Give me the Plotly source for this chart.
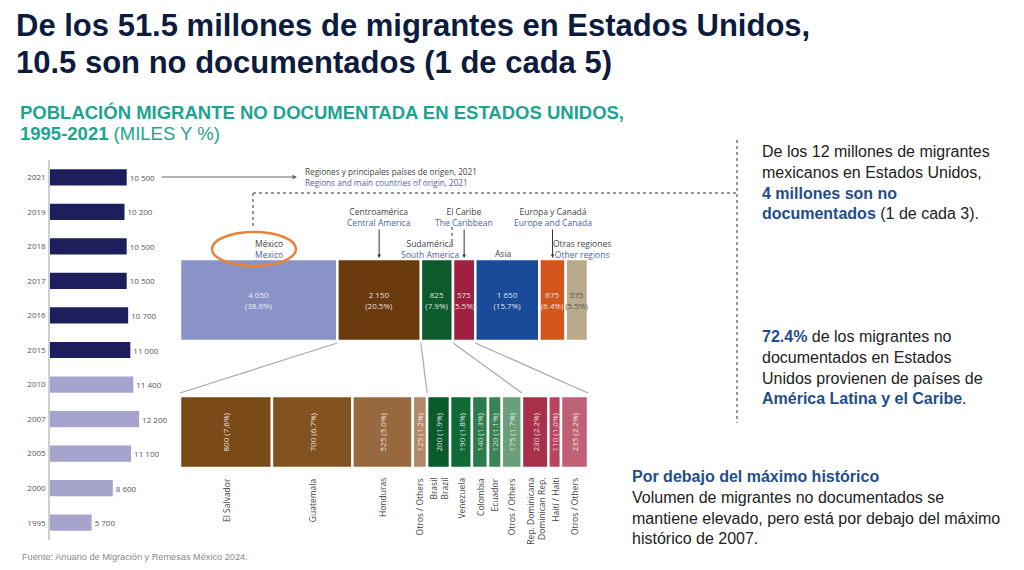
import plotly.graph_objects as go
import numpy as np

# ---------------- data ----------------
years = ["2021", "2019", "2018", "2017", "2016", "2015", "2010", "2007", "2005", "2000", "1995"]
totals = [10500, 10200, 10500, 10500, 10700, 11000, 11400, 12200, 11100, 8600, 5700]

regions_es = ["México", "Centroamérica", "Sudamérica", "El Caribe", "Asia", "Europa y Canadá", "Otras regiones"]
regions_en = ["Mexico", "Central America", "South America", "The Caribbean", "Asia", "Europe and Canada", "Other regions"]
region_values = [4050, 2150, 825, 575, 1650, 675, 575]
region_pct = [38.6, 20.5, 7.9, 5.5, 15.7, 6.4, 5.5]

countries = ["El Salvador", "Guatemala", "Honduras", "Otros / Others",
             "Brasil<br>Brazil", "Venezuela", "Colombia", "Ecuador", "Otros / Others",
             "Rep. Dominicana<br>Dominican Rep.", "Haití / Haiti", "Otros / Others"]
country_values = [800, 700, 525, 125, 200, 190, 140, 120, 175, 230, 110, 235]
country_pct = [7.6, 6.7, 5.0, 1.2, 1.9, 1.8, 1.3, 1.1, 1.7, 2.2, 1.0, 2.2]
country_groups = [4, 5, 3]  # Centroamérica, Sudamérica, El Caribe

# ---------------- styles ----------------
W, H = 1024, 570
FONT = "Open Sans"
TXT = "Liberation Sans, Arial"
BLUE_EN = "#4f5fa6"
year_colors = ["#1c1f5b" if int(y) >= 2015 else "#a4a4cd" for y in years]
region_colors = ["#8a93c7", "#6b3a0c", "#0d5a2c", "#a0213f", "#1a4a9a", "#d2561c", "#b9aa8c"]
region_txt = ["rgba(255,255,255,0.88)"] * 6 + ["#555555"]
country_colors = ["#7a4a17", "#83531f", "#98683f", "#b0886a",
                  "#0b5a2c", "#0f6a36", "#2d7a4b", "#3b8256", "#6b9e7a",
                  "#a8304a", "#b54560", "#bf6075"]


def px(x):
    return x / W


def py(y):
    return 1 - y / H


MID_X0, MID_X1 = 180, 588
mid_total = sum(region_values)
bot_total = sum(country_values)
region_base = np.concatenate([[0], np.cumsum(region_values)[:-1]])
country_base = np.concatenate([[0], np.cumsum(country_values)[:-1]])


def x2p(v):
    return px(MID_X0 + v / mid_total * (MID_X1 - MID_X0))


def x3p(v):
    return px(MID_X0 + v / bot_total * (MID_X1 - MID_X0))


fig = go.Figure()

# left: total by year
fig.add_trace(go.Bar(
    x=totals, y=years, orientation="h", width=0.47,
    marker=dict(color=year_colors, line=dict(width=0)),
    texttemplate="%{x:,}", textposition="outside",
    textfont=dict(size=8, color="#555555", family=FONT),
    cliponaxis=False, xaxis="x", yaxis="y", hoverinfo="skip"))

# middle: regions 2021
fig.add_trace(go.Bar(
    x=region_values, base=region_base, y=[0] * len(region_values), orientation="h", width=1,
    marker=dict(color=region_colors, line=dict(color="white", width=2.5)),
    customdata=region_pct,
    texttemplate="%{x:,}<br>(%{customdata:.1f}%)", textposition="inside",
    insidetextanchor="middle", textangle=0,
    textfont=dict(size=8, color=region_txt, family=FONT),
    xaxis="x2", yaxis="y2", hoverinfo="skip"))

# bottom: countries
fig.add_trace(go.Bar(
    x=country_values, base=country_base, y=[0] * len(country_values), orientation="h", width=1,
    marker=dict(color=country_colors, line=dict(color="white", width=2.5)),
    customdata=country_pct,
    texttemplate="%{x} (%{customdata:.1f}%)", textposition="inside",
    insidetextanchor="middle", textangle=-90,
    textfont=dict(size=8, color="rgba(255,255,255,0.88)", family=FONT),
    xaxis="x3", yaxis="y3", hoverinfo="skip"))

annotations = []
shapes = []

# titles
annotations.append(dict(x=px(14), y=py(25), xref="paper", yref="paper", xanchor="left", yanchor="middle",
                        text="<b>De los 51.5 millones de migrantes en Estados Unidos,</b>", showarrow=False,
                        font=dict(family=TXT, size=31, color="#0d1b3e")))
annotations.append(dict(x=px(14), y=py(62), xref="paper", yref="paper", xanchor="left", yanchor="middle",
                        text="<b>10.5 son no documentados (1 de cada 5)</b>", showarrow=False,
                        font=dict(family=TXT, size=31, color="#0d1b3e")))
annotations.append(dict(x=px(18), y=py(113), xref="paper", yref="paper", xanchor="left", yanchor="middle",
                        text="<b>POBLACIÓN MIGRANTE NO DOCUMENTADA EN ESTADOS UNIDOS,</b>", showarrow=False,
                        font=dict(family=TXT, size=18.5, color="#1ba58f")))
annotations.append(dict(x=px(18), y=py(133), xref="paper", yref="paper", xanchor="left", yanchor="middle",
                        text="<b>1995-2021</b> (MILES Y %)", showarrow=False,
                        font=dict(family=TXT, size=18.5, color="#1ba58f")))

# right texts
B = "#1f4e8c"
annotations.append(dict(x=px(760), y=py(182), xref="paper", yref="paper", xanchor="left", yanchor="middle",
                        align="left", showarrow=False, font=dict(family=TXT, size=16, color="#222222"),
                        text=("De los 12 millones de migrantes<br>mexicanos en Estados Unidos,<br>"
                              f"<b><span style='color:{B}'>4 millones son no</span></b><br>"
                              f"<b><span style='color:{B}'>documentados</span></b> (1 de cada 3).")))
annotations.append(dict(x=px(760), y=py(367), xref="paper", yref="paper", xanchor="left", yanchor="middle",
                        align="left", showarrow=False, font=dict(family=TXT, size=16, color="#222222"),
                        text=(f"<b><span style='color:{B}'>72.4%</span></b> de los migrantes no<br>"
                              "documentados en Estados<br>Unidos provienen de países de<br>"
                              f"<b><span style='color:{B}'>América Latina y el Caribe</span></b>.")))
annotations.append(dict(x=px(630), y=py(507), xref="paper", yref="paper", xanchor="left", yanchor="middle",
                        align="left", showarrow=False, font=dict(family=TXT, size=16, color="#222222"),
                        text=(f"<b><span style='color:{B}'>Por debajo del máximo histórico</span></b><br>"
                              "Volumen de migrantes no documentados se<br>"
                              "mantiene elevado, pero está por debajo del máximo<br>"
                              "histórico de 2007.")))

# footer
annotations.append(dict(x=px(20), y=py(557), xref="paper", yref="paper", xanchor="left", yanchor="middle",
                        text="Fuente: Anuario de Migración y Remesas México 2024.", showarrow=False,
                        font=dict(family=TXT, size=9.2, color="#8a8a8a")))

# arrow from 2021 bar to regions
annotations.append(dict(x=px(297), y=py(177), xref="paper", yref="paper", ax=-137, ay=0,
                        axref="pixel", ayref="pixel", text="", showarrow=True,
                        arrowhead=2, arrowsize=0.9, arrowwidth=1, arrowcolor="#666666"))
annotations.append(dict(x=px(303), y=py(177.5), xref="paper", yref="paper", xanchor="left", yanchor="middle",
                        align="left", showarrow=False, font=dict(family=FONT, size=8.2, color="#444444"),
                        text=("Regiones y principales países de origen, 2021<br>"
                              f"<span style='color:{BLUE_EN}'>Regions and main countries of origin, 2021</span>")))


def region_label(i):
    return f"{regions_es[i]}<br><span style='color:{BLUE_EN}'>{regions_en[i]}</span>"


RFS = 8.5
# region labels with arrows (centered on segments)
for i in [1, 3, 5]:
    cx = region_base[i] + region_values[i] / 2
    annotations.append(dict(x=cx, y=py(258), xref="x2", yref="paper", ax=0, ay=-41,
                            text=region_label(i), showarrow=True, arrowhead=2, arrowsize=0.7,
                            arrowwidth=1, arrowcolor="#333333", standoff=0,
                            font=dict(family=FONT, size=RFS, color="#444444")))
# labels without arrows
annotations.append(dict(x=px(253), y=py(248.5), xref="paper", yref="paper", showarrow=False,
                        text=region_label(0), font=dict(family=FONT, size=RFS, color="#444444")))
annotations.append(dict(x=px(430), y=py(248.5), xref="paper", yref="paper", showarrow=False,
                        text=region_label(2), font=dict(family=FONT, size=RFS, color="#444444")))
annotations.append(dict(x=px(503), y=py(253), xref="paper", yref="paper", showarrow=False,
                        text=regions_es[4], font=dict(family=FONT, size=RFS, color="#444444")))
annotations.append(dict(x=px(582), y=py(248.5), xref="paper", yref="paper", showarrow=False,
                        text=region_label(6), font=dict(family=FONT, size=RFS, color="#444444")))

# country labels below bottom bars
for i, name in enumerate(countries):
    cx = country_base[i] + country_values[i] / 2
    annotations.append(dict(x=cx, y=py(476), xref="x3", yref="paper", xanchor="center", yanchor="top",
                            textangle=-90, align="right", showarrow=False, text=name,
                            font=dict(family=FONT, size=8.5, color="#444444")))

# Mexico ellipse
shapes.append(dict(type="circle", xref="paper", yref="paper",
                   x0=px(212), x1=px(296), y0=py(266), y1=py(232),
                   line=dict(color="#e8843a", width=2.5)))

# dotted guides
dot = dict(color="#777777", width=1.5, dash="dot")
shapes.append(dict(type="line", xref="paper", yref="paper", x0=px(253), x1=px(737), y0=py(193), y1=py(193), line=dot))
shapes.append(dict(type="line", xref="paper", yref="paper", x0=px(253), x1=px(253), y0=py(193), y1=py(226), line=dot))
shapes.append(dict(type="line", xref="paper", yref="paper", x0=px(737), x1=px(737), y0=py(140), y1=py(423), line=dot))
shapes.append(dict(type="line", xref="paper", yref="paper", x0=px(452), x1=px(452), y0=py(227), y1=py(244), line=dot))

# connectors from regions to countries
grp_cum = np.cumsum([0] + [sum(country_values[sum(country_groups[:k]):sum(country_groups[:k + 1])])
                           for k in range(len(country_groups))])
reg_start = region_base
reg_end = region_base + np.array(region_values)
conn = [(reg_start[1], grp_cum[0]), (reg_end[1], grp_cum[1]),
        (reg_start[3], grp_cum[2]), (reg_end[3], grp_cum[3])]
for top_v, bot_v in conn:
    shapes.append(dict(type="line", xref="paper", yref="paper",
                       x0=x2p(top_v), y0=py(343), x1=x3p(bot_v), y1=py(393),
                       line=dict(color="#a8a8a8", width=1.2)))

hidden = dict(visible=False, showgrid=False, zeroline=False, fixedrange=True)

fig.update_layout(
    width=W, height=H, margin=dict(l=0, r=0, t=0, b=0),
    paper_bgcolor="white", plot_bgcolor="white", showlegend=False,
    separators=". ", barmode="overlay",
    uniformtext=dict(minsize=8, mode="show"),
    xaxis=dict(domain=[px(50), px(180)], range=[0, 17800], **hidden),
    yaxis=dict(domain=[py(540), py(160)], type="category", autorange="reversed",
               showline=True, linecolor="#cfcfcf", linewidth=1.5, showgrid=False, zeroline=False,
               ticks="", ticklabelstandoff=1,
               tickfont=dict(family=FONT, size=8, color="#555555")),
    xaxis2=dict(domain=[px(MID_X0), px(MID_X1)], range=[0, mid_total], anchor="y2", **hidden),
    yaxis2=dict(domain=[py(341), py(259)], range=[-0.5, 0.5], anchor="x2", **hidden),
    xaxis3=dict(domain=[px(MID_X0), px(MID_X1)], range=[0, bot_total], anchor="y3", **hidden),
    yaxis3=dict(domain=[py(468), py(396)], range=[-0.5, 0.5], anchor="x3", **hidden),
    annotations=annotations, shapes=shapes,
)

fig.write_html("out.html")
